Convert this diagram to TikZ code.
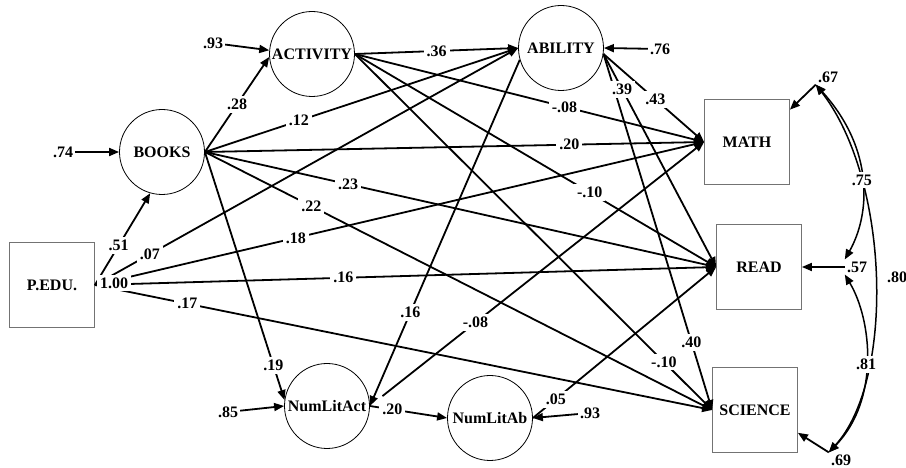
\documentclass[tikz,border=0pt]{standalone}
\usepackage{fontspec}
\setmainfont{Liberation Serif}
\usetikzlibrary{arrows.meta}
\definecolor{boxgray}{gray}{.45}

\begin{document}
\begin{tikzpicture}[x=1pt, y=1pt, font=\fontsize{16}{18}\selectfont\bfseries,
        lat/.style={draw, circle, line width=.8pt, minimum size=85pt, inner sep=0pt},
        obs/.style={draw=boxgray, line width=.8pt, minimum size=85pt, inner sep=0pt},
        err/.style={inner sep=2pt},
        lbl/.style={fill=white, inner sep=3pt},
        arr/.style={line width=1.8pt, -{Triangle[length=10pt, width=8pt]}},
        cov/.style={line width=1.5pt, {Triangle[length=10pt, width=8pt]}-{Triangle[length=10pt, width=8pt]}}]
        \useasboundingbox(0,0)rectangle(906,468);
        % variables
        \node[obs](pedu)at(52,183){P.EDU.};
        \node[lat](books)at(162,316){BOOKS};
        \node[lat](act)at(312,414){ACTIVITY};
        \node[lat](abil)at(561,420){ABILITY};
        \node[lat](nla)at(327,62){NumLitAct};
        \node[lat](nlb)at(490,50){NumLitAb};
        \node[obs](math)at(747,326){MATH};
        \node[obs](read)at(759,201){READ};
        \node[obs](sci)at(755,58){SCIENCE};
        % residuals
        \node[err](e74)at(63,316){.74};
        \node[err](e93)at(213,425){.93};
        \node[err](e76)at(660,419){.76};
        \node[err](e85)at(228,56){.85};
        \node[err](e93b)at(590,55){.93};
        \node[err](e67)at(828,391){.67};
        \node[err](e57)at(857,201){.57};
        \node[err](e69)at(841,8){.69};
        \path[draw, arr](e74)to(books.west);
        \path[draw, arr](e93)to(act.175);
        \path[draw, arr](e76)to(abil.east);
        \path[draw, arr](e85)to(nla.west);
        \path[draw, arr](e93b)to(nlb.east);
        \path[draw, arr](e67.south west)to(math.37);
        \path[draw, arr](e57)to(read.east);
        \path[draw, arr](e69.north west)to(sci.-28);
        % paths from P.EDU.
        \path[draw, arr](pedu.east)to node[lbl, pos=.43]{.51}(books.254);
        \path[draw, arr](pedu.east)to node[lbl, pos=.13]{.07}(abil.west);
        \path[draw, arr](pedu.east)to node[lbl, pos=.33]{.18}(math.west);
        \path[draw, arr](pedu.east)to node[lbl, pos=.40]{.16}(read.west);
        \path[draw, arr](pedu.east)to node[lbl, pos=.15]{.17}(sci.west);
        % paths from BOOKS
        \path[draw, arr](books.east)to node[lbl, pos=.50]{.28}(act.184);
        \path[draw, arr](books.east)to node[lbl, pos=.30]{.12}(abil.west);
        \path[draw, arr](books.east)to node[lbl, pos=.73]{.20}(math.west);
        \path[draw, arr](books.east)to node[lbl, pos=.28]{.23}(read.west);
        \path[draw, arr](books.east)to node[lbl, pos=.21]{.22}(sci.west);
        \path[draw, arr](books.east)to node[lbl, pos=.86]{.19}(nla.172);
        % paths from ACTIVITY
        \path[draw, arr](act.east)to node[lbl, pos=.50]{.36}(abil.west);
        \path[draw, arr](act.east)to node[lbl, pos=.60]{-.08}(math.west);
        \path[draw, arr](act.east)to node[lbl, pos=.65]{-.10}(read.west);
        \path[draw, arr](act.east)to node[lbl, pos=.865]{-.10}(sci.west);
        % paths from ABILITY
        \path[draw, arr](abil.196)to node[lbl, pos=.73]{.16}(nla.east);
        \path[draw, arr](abil.-8)to node[lbl, pos=.515]{.43}(math.west);
        \path[draw, arr](abil.-8)to node[lbl, pos=.81]{.40}(sci.west);
        \path[draw, arr](abil.-8)to node[lbl, pos=.165]{.39}(read.west);
        % paths from NumLitAct and NumLitAb
        \path[draw, arr, shorten <=16pt](nla.east)to node[lbl, pos=.316]{-.08}(math.west);
        \path[draw, arr](nla.east)to node[lbl, pos=.29]{.20}(nlb.west);
        \path[draw, arr](nlb.east)to node[lbl, pos=.125]{.05}(read.west);
        \node[lbl](one)at(114,185){1.00};
        % correlated residuals
        \path[draw, cov](e67.south west) .. controls (890,288) and (895,88) .. (e69.north west) node[pos=.5, right=8pt]{.80};
        \path[draw, cov](e67.south west) .. controls (875,318) and (870,253) .. (e57.north west) node[lbl, pos=.5]{.75};
        \path[draw, cov](e57.south west) .. controls (872,148) and (880,68) .. (e69.north west) node[lbl, pos=.52]{.81};
    \end{tikzpicture}
\end{document}
